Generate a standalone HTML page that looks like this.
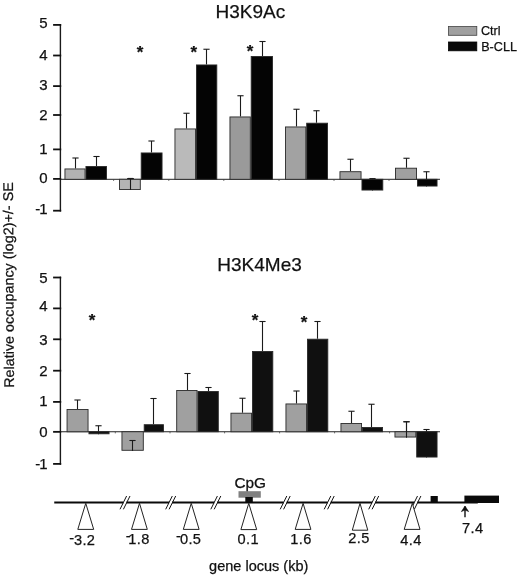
<!DOCTYPE html>
<html><head><meta charset="utf-8"><title>Figure</title>
<style>
html,body{margin:0;padding:0;background:#fff;}
svg{display:block;font-family:'Liberation Sans', Arial, sans-serif;fill:#111;}
text{stroke:#111;stroke-width:0.25px;}
</style></head><body>
<svg width="520" height="576" viewBox="0 0 520 576">
<rect x="0" y="0" width="520" height="576" fill="#ffffff"/>
<line x1="60.40" y1="24.10" x2="60.40" y2="211.50" stroke="#1a1a1a" stroke-width="1.4" stroke-linecap="butt"/>
<line x1="53.10" y1="24.90" x2="61.20" y2="24.90" stroke="#111" stroke-width="1.8" stroke-linecap="butt"/>
<text x="47.70" y="27.70" font-size="15" text-anchor="end" >5</text>
<line x1="53.10" y1="55.50" x2="61.20" y2="55.50" stroke="#111" stroke-width="1.8" stroke-linecap="butt"/>
<text x="47.70" y="59.80" font-size="15" text-anchor="end" >4</text>
<line x1="53.10" y1="86.10" x2="61.20" y2="86.10" stroke="#111" stroke-width="1.8" stroke-linecap="butt"/>
<text x="47.70" y="90.30" font-size="15" text-anchor="end" >3</text>
<line x1="53.10" y1="115.00" x2="61.20" y2="115.00" stroke="#111" stroke-width="1.8" stroke-linecap="butt"/>
<text x="47.70" y="119.80" font-size="15" text-anchor="end" >2</text>
<line x1="53.10" y1="149.40" x2="61.20" y2="149.40" stroke="#111" stroke-width="1.8" stroke-linecap="butt"/>
<text x="47.70" y="154.20" font-size="15" text-anchor="end" >1</text>
<line x1="53.10" y1="178.90" x2="61.20" y2="178.90" stroke="#111" stroke-width="1.8" stroke-linecap="butt"/>
<text x="47.70" y="183.40" font-size="15" text-anchor="end" >0</text>
<line x1="53.10" y1="210.70" x2="61.20" y2="210.70" stroke="#111" stroke-width="1.8" stroke-linecap="butt"/>
<text x="47.70" y="214.10" font-size="15" text-anchor="end" >-<tspan dx="-1">1</tspan></text>
<line x1="61.00" y1="179.30" x2="440.00" y2="179.30" stroke="#222" stroke-width="1" stroke-linecap="butt"/>
<line x1="113.60" y1="179.30" x2="113.60" y2="180.90" stroke="#444" stroke-width="0.8" stroke-linecap="butt"/>
<line x1="168.80" y1="179.30" x2="168.80" y2="180.90" stroke="#444" stroke-width="0.8" stroke-linecap="butt"/>
<line x1="223.80" y1="179.30" x2="223.80" y2="180.90" stroke="#444" stroke-width="0.8" stroke-linecap="butt"/>
<line x1="279.00" y1="179.30" x2="279.00" y2="180.90" stroke="#444" stroke-width="0.8" stroke-linecap="butt"/>
<line x1="334.00" y1="179.30" x2="334.00" y2="180.90" stroke="#444" stroke-width="0.8" stroke-linecap="butt"/>
<line x1="389.00" y1="179.30" x2="389.00" y2="180.90" stroke="#444" stroke-width="0.8" stroke-linecap="butt"/>
<line x1="75.50" y1="158.00" x2="75.50" y2="168.50" stroke="#1a1a1a" stroke-width="1.1" stroke-linecap="butt"/>
<line x1="72.40" y1="158.00" x2="78.60" y2="158.00" stroke="#1a1a1a" stroke-width="1.1" stroke-linecap="butt"/>
<rect x="64.95" y="168.95" width="20.10" height="10.35" fill="#b2b2b2" stroke="#2a2a2a" stroke-width="0.9"/>
<line x1="96.50" y1="156.50" x2="96.50" y2="166.00" stroke="#1a1a1a" stroke-width="1.1" stroke-linecap="butt"/>
<line x1="93.40" y1="156.50" x2="99.60" y2="156.50" stroke="#1a1a1a" stroke-width="1.1" stroke-linecap="butt"/>
<rect x="85.95" y="166.45" width="20.60" height="12.85" fill="#040404" stroke="#2a2a2a" stroke-width="0.9"/>
<line x1="130.50" y1="178.50" x2="130.50" y2="190.00" stroke="#1a1a1a" stroke-width="1.1" stroke-linecap="butt"/>
<line x1="127.40" y1="178.50" x2="133.60" y2="178.50" stroke="#1a1a1a" stroke-width="1.1" stroke-linecap="butt"/>
<rect x="119.55" y="179.30" width="20.75" height="10.25" fill="#b4b4b4" stroke="#2a2a2a" stroke-width="0.9"/>
<line x1="130.50" y1="178.50" x2="130.50" y2="190.00" stroke="#1a1a1a" stroke-width="1.1" stroke-linecap="butt"/>
<line x1="127.40" y1="178.50" x2="133.60" y2="178.50" stroke="#1a1a1a" stroke-width="1.1" stroke-linecap="butt"/>
<line x1="151.50" y1="141.00" x2="151.50" y2="152.50" stroke="#1a1a1a" stroke-width="1.1" stroke-linecap="butt"/>
<line x1="148.40" y1="141.00" x2="154.60" y2="141.00" stroke="#1a1a1a" stroke-width="1.1" stroke-linecap="butt"/>
<rect x="141.20" y="152.95" width="20.85" height="26.35" fill="#040404" stroke="#2a2a2a" stroke-width="0.9"/>
<line x1="186.50" y1="113.25" x2="186.50" y2="128.50" stroke="#1a1a1a" stroke-width="1.1" stroke-linecap="butt"/>
<line x1="183.40" y1="113.25" x2="189.60" y2="113.25" stroke="#1a1a1a" stroke-width="1.1" stroke-linecap="butt"/>
<rect x="174.95" y="128.95" width="20.60" height="50.35" fill="#bababa" stroke="#2a2a2a" stroke-width="0.9"/>
<line x1="206.50" y1="49.25" x2="206.50" y2="64.50" stroke="#1a1a1a" stroke-width="1.1" stroke-linecap="butt"/>
<line x1="203.40" y1="49.25" x2="209.60" y2="49.25" stroke="#1a1a1a" stroke-width="1.1" stroke-linecap="butt"/>
<rect x="196.45" y="64.95" width="20.35" height="114.35" fill="#040404" stroke="#2a2a2a" stroke-width="0.9"/>
<line x1="240.50" y1="95.75" x2="240.50" y2="116.50" stroke="#1a1a1a" stroke-width="1.1" stroke-linecap="butt"/>
<line x1="237.40" y1="95.75" x2="243.60" y2="95.75" stroke="#1a1a1a" stroke-width="1.1" stroke-linecap="butt"/>
<rect x="229.95" y="116.95" width="20.35" height="62.35" fill="#9a9a9a" stroke="#2a2a2a" stroke-width="0.9"/>
<line x1="262.50" y1="41.50" x2="262.50" y2="56.00" stroke="#1a1a1a" stroke-width="1.1" stroke-linecap="butt"/>
<line x1="259.40" y1="41.50" x2="265.60" y2="41.50" stroke="#1a1a1a" stroke-width="1.1" stroke-linecap="butt"/>
<rect x="251.20" y="56.45" width="21.35" height="122.85" fill="#040404" stroke="#2a2a2a" stroke-width="0.9"/>
<line x1="296.50" y1="109.25" x2="296.50" y2="126.50" stroke="#1a1a1a" stroke-width="1.1" stroke-linecap="butt"/>
<line x1="293.40" y1="109.25" x2="299.60" y2="109.25" stroke="#1a1a1a" stroke-width="1.1" stroke-linecap="butt"/>
<rect x="285.45" y="126.95" width="20.35" height="52.35" fill="#a2a2a2" stroke="#2a2a2a" stroke-width="0.9"/>
<line x1="316.50" y1="110.75" x2="316.50" y2="122.75" stroke="#1a1a1a" stroke-width="1.1" stroke-linecap="butt"/>
<line x1="313.40" y1="110.75" x2="319.60" y2="110.75" stroke="#1a1a1a" stroke-width="1.1" stroke-linecap="butt"/>
<rect x="306.70" y="123.20" width="20.85" height="56.10" fill="#040404" stroke="#2a2a2a" stroke-width="0.9"/>
<line x1="350.50" y1="159.25" x2="350.50" y2="171.25" stroke="#1a1a1a" stroke-width="1.1" stroke-linecap="butt"/>
<line x1="347.40" y1="159.25" x2="353.60" y2="159.25" stroke="#1a1a1a" stroke-width="1.1" stroke-linecap="butt"/>
<rect x="339.95" y="171.70" width="21.10" height="7.60" fill="#a2a2a2" stroke="#2a2a2a" stroke-width="0.9"/>
<line x1="372.50" y1="178.60" x2="372.50" y2="190.50" stroke="#1a1a1a" stroke-width="1.1" stroke-linecap="butt"/>
<line x1="369.40" y1="178.60" x2="375.60" y2="178.60" stroke="#1a1a1a" stroke-width="1.1" stroke-linecap="butt"/>
<rect x="361.95" y="179.30" width="20.85" height="10.75" fill="#040404" stroke="#2a2a2a" stroke-width="0.9"/>
<line x1="406.50" y1="158.25" x2="406.50" y2="167.75" stroke="#1a1a1a" stroke-width="1.1" stroke-linecap="butt"/>
<line x1="403.40" y1="158.25" x2="409.60" y2="158.25" stroke="#1a1a1a" stroke-width="1.1" stroke-linecap="butt"/>
<rect x="395.45" y="168.20" width="21.10" height="11.10" fill="#a0a0a0" stroke="#2a2a2a" stroke-width="0.9"/>
<line x1="426.50" y1="171.75" x2="426.50" y2="186.50" stroke="#1a1a1a" stroke-width="1.1" stroke-linecap="butt"/>
<line x1="423.40" y1="171.75" x2="429.60" y2="171.75" stroke="#1a1a1a" stroke-width="1.1" stroke-linecap="butt"/>
<rect x="417.45" y="179.30" width="19.60" height="6.75" fill="#040404" stroke="#2a2a2a" stroke-width="0.9"/>
<text x="140.00" y="57.50" font-size="17" text-anchor="middle" font-weight="bold">*</text>
<text x="193.75" y="58.00" font-size="17" text-anchor="middle" font-weight="bold">*</text>
<text x="250.00" y="56.75" font-size="17" text-anchor="middle" font-weight="bold">*</text>
<text x="215.50" y="18.30" font-size="19" text-anchor="start" >H3K9Ac</text>
<line x1="60.40" y1="276.70" x2="60.40" y2="464.70" stroke="#1a1a1a" stroke-width="1.4" stroke-linecap="butt"/>
<line x1="53.10" y1="277.50" x2="61.20" y2="277.50" stroke="#111" stroke-width="1.8" stroke-linecap="butt"/>
<text x="47.70" y="282.60" font-size="15" text-anchor="end" >5</text>
<line x1="53.10" y1="308.40" x2="61.20" y2="308.40" stroke="#111" stroke-width="1.8" stroke-linecap="butt"/>
<text x="47.70" y="311.25" font-size="15" text-anchor="end" >4</text>
<line x1="53.10" y1="339.30" x2="61.20" y2="339.30" stroke="#111" stroke-width="1.8" stroke-linecap="butt"/>
<text x="47.70" y="344.70" font-size="15" text-anchor="end" >3</text>
<line x1="53.10" y1="370.70" x2="61.20" y2="370.70" stroke="#111" stroke-width="1.8" stroke-linecap="butt"/>
<text x="47.70" y="375.70" font-size="15" text-anchor="end" >2</text>
<line x1="53.10" y1="401.90" x2="61.20" y2="401.90" stroke="#111" stroke-width="1.8" stroke-linecap="butt"/>
<text x="47.70" y="406.40" font-size="15" text-anchor="end" >1</text>
<line x1="53.10" y1="431.85" x2="61.20" y2="431.85" stroke="#111" stroke-width="1.8" stroke-linecap="butt"/>
<text x="47.70" y="437.30" font-size="15" text-anchor="end" >0</text>
<line x1="53.10" y1="463.90" x2="61.20" y2="463.90" stroke="#111" stroke-width="1.8" stroke-linecap="butt"/>
<text x="47.70" y="469.10" font-size="15" text-anchor="end" >-<tspan dx="-1">1</tspan></text>
<line x1="61.00" y1="431.75" x2="440.00" y2="431.75" stroke="#222" stroke-width="1" stroke-linecap="butt"/>
<line x1="115.30" y1="431.75" x2="115.30" y2="433.35" stroke="#444" stroke-width="0.8" stroke-linecap="butt"/>
<line x1="170.00" y1="431.75" x2="170.00" y2="433.35" stroke="#444" stroke-width="0.8" stroke-linecap="butt"/>
<line x1="224.60" y1="431.75" x2="224.60" y2="433.35" stroke="#444" stroke-width="0.8" stroke-linecap="butt"/>
<line x1="279.60" y1="431.75" x2="279.60" y2="433.35" stroke="#444" stroke-width="0.8" stroke-linecap="butt"/>
<line x1="334.60" y1="431.75" x2="334.60" y2="433.35" stroke="#444" stroke-width="0.8" stroke-linecap="butt"/>
<line x1="389.60" y1="431.75" x2="389.60" y2="433.35" stroke="#444" stroke-width="0.8" stroke-linecap="butt"/>
<line x1="77.50" y1="400.00" x2="77.50" y2="409.00" stroke="#1a1a1a" stroke-width="1.1" stroke-linecap="butt"/>
<line x1="74.40" y1="400.00" x2="80.60" y2="400.00" stroke="#1a1a1a" stroke-width="1.1" stroke-linecap="butt"/>
<rect x="67.05" y="409.45" width="21.00" height="22.30" fill="#a0a0a0" stroke="#2a2a2a" stroke-width="0.9"/>
<line x1="98.50" y1="425.75" x2="98.50" y2="434.25" stroke="#1a1a1a" stroke-width="1.1" stroke-linecap="butt"/>
<line x1="95.40" y1="425.75" x2="101.60" y2="425.75" stroke="#1a1a1a" stroke-width="1.1" stroke-linecap="butt"/>
<rect x="88.95" y="431.75" width="20.10" height="2.05" fill="#101010" stroke="#2a2a2a" stroke-width="0.9"/>
<line x1="132.50" y1="440.50" x2="132.50" y2="450.75" stroke="#1a1a1a" stroke-width="1.1" stroke-linecap="butt"/>
<line x1="129.40" y1="440.50" x2="135.60" y2="440.50" stroke="#1a1a1a" stroke-width="1.1" stroke-linecap="butt"/>
<rect x="121.95" y="431.75" width="21.35" height="18.55" fill="#a0a0a0" stroke="#2a2a2a" stroke-width="0.9"/>
<line x1="132.50" y1="440.50" x2="132.50" y2="450.75" stroke="#1a1a1a" stroke-width="1.1" stroke-linecap="butt"/>
<line x1="129.40" y1="440.50" x2="135.60" y2="440.50" stroke="#1a1a1a" stroke-width="1.1" stroke-linecap="butt"/>
<line x1="153.50" y1="398.50" x2="153.50" y2="424.25" stroke="#1a1a1a" stroke-width="1.1" stroke-linecap="butt"/>
<line x1="150.40" y1="398.50" x2="156.60" y2="398.50" stroke="#1a1a1a" stroke-width="1.1" stroke-linecap="butt"/>
<rect x="144.20" y="424.70" width="19.25" height="7.05" fill="#101010" stroke="#2a2a2a" stroke-width="0.9"/>
<line x1="187.50" y1="373.50" x2="187.50" y2="390.00" stroke="#1a1a1a" stroke-width="1.1" stroke-linecap="butt"/>
<line x1="184.40" y1="373.50" x2="190.60" y2="373.50" stroke="#1a1a1a" stroke-width="1.1" stroke-linecap="butt"/>
<rect x="176.70" y="390.45" width="20.35" height="41.30" fill="#a0a0a0" stroke="#2a2a2a" stroke-width="0.9"/>
<line x1="208.50" y1="387.50" x2="208.50" y2="391.00" stroke="#1a1a1a" stroke-width="1.1" stroke-linecap="butt"/>
<line x1="205.40" y1="387.50" x2="211.60" y2="387.50" stroke="#1a1a1a" stroke-width="1.1" stroke-linecap="butt"/>
<rect x="197.95" y="391.45" width="20.35" height="40.30" fill="#101010" stroke="#2a2a2a" stroke-width="0.9"/>
<line x1="242.50" y1="398.25" x2="242.50" y2="412.75" stroke="#1a1a1a" stroke-width="1.1" stroke-linecap="butt"/>
<line x1="239.40" y1="398.25" x2="245.60" y2="398.25" stroke="#1a1a1a" stroke-width="1.1" stroke-linecap="butt"/>
<rect x="230.95" y="413.20" width="20.60" height="18.55" fill="#a0a0a0" stroke="#2a2a2a" stroke-width="0.9"/>
<line x1="262.50" y1="321.50" x2="262.50" y2="351.00" stroke="#1a1a1a" stroke-width="1.1" stroke-linecap="butt"/>
<line x1="259.40" y1="321.50" x2="265.60" y2="321.50" stroke="#1a1a1a" stroke-width="1.1" stroke-linecap="butt"/>
<rect x="252.45" y="351.45" width="20.35" height="80.30" fill="#101010" stroke="#2a2a2a" stroke-width="0.9"/>
<line x1="296.50" y1="391.00" x2="296.50" y2="403.50" stroke="#1a1a1a" stroke-width="1.1" stroke-linecap="butt"/>
<line x1="293.40" y1="391.00" x2="299.60" y2="391.00" stroke="#1a1a1a" stroke-width="1.1" stroke-linecap="butt"/>
<rect x="285.95" y="403.95" width="20.60" height="27.80" fill="#a0a0a0" stroke="#2a2a2a" stroke-width="0.9"/>
<line x1="317.50" y1="321.50" x2="317.50" y2="338.75" stroke="#1a1a1a" stroke-width="1.1" stroke-linecap="butt"/>
<line x1="314.40" y1="321.50" x2="320.60" y2="321.50" stroke="#1a1a1a" stroke-width="1.1" stroke-linecap="butt"/>
<rect x="307.45" y="339.20" width="20.35" height="92.55" fill="#101010" stroke="#2a2a2a" stroke-width="0.9"/>
<line x1="351.50" y1="411.25" x2="351.50" y2="423.00" stroke="#1a1a1a" stroke-width="1.1" stroke-linecap="butt"/>
<line x1="348.40" y1="411.25" x2="354.60" y2="411.25" stroke="#1a1a1a" stroke-width="1.1" stroke-linecap="butt"/>
<rect x="340.95" y="423.45" width="20.60" height="8.30" fill="#a0a0a0" stroke="#2a2a2a" stroke-width="0.9"/>
<line x1="371.50" y1="404.25" x2="371.50" y2="427.00" stroke="#1a1a1a" stroke-width="1.1" stroke-linecap="butt"/>
<line x1="368.40" y1="404.25" x2="374.60" y2="404.25" stroke="#1a1a1a" stroke-width="1.1" stroke-linecap="butt"/>
<rect x="362.45" y="427.45" width="20.10" height="4.30" fill="#101010" stroke="#2a2a2a" stroke-width="0.9"/>
<line x1="406.50" y1="421.75" x2="406.50" y2="437.50" stroke="#1a1a1a" stroke-width="1.1" stroke-linecap="butt"/>
<line x1="403.40" y1="421.75" x2="409.60" y2="421.75" stroke="#1a1a1a" stroke-width="1.1" stroke-linecap="butt"/>
<rect x="394.95" y="431.75" width="20.85" height="5.30" fill="#a0a0a0" stroke="#2a2a2a" stroke-width="0.9"/>
<line x1="406.50" y1="421.75" x2="406.50" y2="437.50" stroke="#1a1a1a" stroke-width="1.1" stroke-linecap="butt"/>
<line x1="403.40" y1="421.75" x2="409.60" y2="421.75" stroke="#1a1a1a" stroke-width="1.1" stroke-linecap="butt"/>
<line x1="426.50" y1="429.50" x2="426.50" y2="457.50" stroke="#1a1a1a" stroke-width="1.1" stroke-linecap="butt"/>
<line x1="423.40" y1="429.50" x2="429.60" y2="429.50" stroke="#1a1a1a" stroke-width="1.1" stroke-linecap="butt"/>
<rect x="416.70" y="431.75" width="20.35" height="25.30" fill="#101010" stroke="#2a2a2a" stroke-width="0.9"/>
<text x="92.00" y="325.50" font-size="17" text-anchor="middle" font-weight="bold">*</text>
<text x="255.00" y="326.25" font-size="17" text-anchor="middle" font-weight="bold">*</text>
<text x="304.00" y="327.50" font-size="17" text-anchor="middle" font-weight="bold">*</text>
<text x="217.30" y="271.00" font-size="19" text-anchor="start" >H3K4Me3</text>
<rect x="448.50" y="26.50" width="28.30" height="8.80" fill="#a0a0a0" stroke="#444" stroke-width="0.8"/>
<rect x="448.50" y="42.00" width="28.30" height="8.80" fill="#0a0a0a" stroke="#000" stroke-width="0.8"/>
<text x="481.00" y="35.20" font-size="12.6" text-anchor="start" >Ctrl</text>
<text x="481.20" y="51.20" font-size="12.6" text-anchor="start" >B-CLL</text>
<text transform="translate(14.0,387.8) rotate(-90.3)" font-size="14.0" textLength="205.6" lengthAdjust="spacingAndGlyphs">Relative occupancy (log2)+/- SE</text>
<line x1="54.25" y1="502.50" x2="123.40" y2="502.50" stroke="#0a0a0a" stroke-width="1.8" stroke-linecap="butt"/>
<line x1="126.40" y1="502.50" x2="169.10" y2="502.50" stroke="#0a0a0a" stroke-width="1.8" stroke-linecap="butt"/>
<line x1="172.10" y1="502.50" x2="214.20" y2="502.50" stroke="#0a0a0a" stroke-width="1.8" stroke-linecap="butt"/>
<line x1="217.20" y1="502.50" x2="283.60" y2="502.50" stroke="#0a0a0a" stroke-width="1.8" stroke-linecap="butt"/>
<line x1="286.60" y1="502.50" x2="327.60" y2="502.50" stroke="#0a0a0a" stroke-width="1.8" stroke-linecap="butt"/>
<line x1="330.60" y1="502.50" x2="372.10" y2="502.50" stroke="#0a0a0a" stroke-width="1.8" stroke-linecap="butt"/>
<line x1="375.10" y1="502.50" x2="414.30" y2="502.50" stroke="#0a0a0a" stroke-width="1.8" stroke-linecap="butt"/>
<line x1="417.30" y1="502.50" x2="477.80" y2="502.50" stroke="#0a0a0a" stroke-width="1.8" stroke-linecap="butt"/>
<line x1="120.00" y1="509.30" x2="126.60" y2="496.00" stroke="#111" stroke-width="1" stroke-linecap="butt"/>
<line x1="123.40" y1="509.30" x2="130.00" y2="496.00" stroke="#111" stroke-width="1" stroke-linecap="butt"/>
<line x1="165.70" y1="509.30" x2="172.30" y2="496.00" stroke="#111" stroke-width="1" stroke-linecap="butt"/>
<line x1="169.10" y1="509.30" x2="175.70" y2="496.00" stroke="#111" stroke-width="1" stroke-linecap="butt"/>
<line x1="210.80" y1="509.30" x2="217.40" y2="496.00" stroke="#111" stroke-width="1" stroke-linecap="butt"/>
<line x1="214.20" y1="509.30" x2="220.80" y2="496.00" stroke="#111" stroke-width="1" stroke-linecap="butt"/>
<line x1="280.20" y1="509.30" x2="286.80" y2="496.00" stroke="#111" stroke-width="1" stroke-linecap="butt"/>
<line x1="283.60" y1="509.30" x2="290.20" y2="496.00" stroke="#111" stroke-width="1" stroke-linecap="butt"/>
<line x1="324.20" y1="509.30" x2="330.80" y2="496.00" stroke="#111" stroke-width="1" stroke-linecap="butt"/>
<line x1="327.60" y1="509.30" x2="334.20" y2="496.00" stroke="#111" stroke-width="1" stroke-linecap="butt"/>
<line x1="368.70" y1="509.30" x2="375.30" y2="496.00" stroke="#111" stroke-width="1" stroke-linecap="butt"/>
<line x1="372.10" y1="509.30" x2="378.70" y2="496.00" stroke="#111" stroke-width="1" stroke-linecap="butt"/>
<line x1="410.90" y1="509.30" x2="417.50" y2="496.00" stroke="#111" stroke-width="1" stroke-linecap="butt"/>
<line x1="414.30" y1="509.30" x2="420.90" y2="496.00" stroke="#111" stroke-width="1" stroke-linecap="butt"/>
<polygon points="85.75,503.3 77.8,529.4 93.7,529.4" fill="#fff" stroke="#222" stroke-width="1"/>
<polygon points="139.5,503.3 131.5,529.4 147.3,529.4" fill="#fff" stroke="#222" stroke-width="1"/>
<polygon points="191.25,503.3 183.3,529.4 199.1,529.4" fill="#fff" stroke="#222" stroke-width="1"/>
<polygon points="248.75,503.3 240.9,529.6 256.7,529.6" fill="#fff" stroke="#222" stroke-width="1"/>
<polygon points="303.1,503.3 295.2,529.4 310.9,529.4" fill="#fff" stroke="#222" stroke-width="1"/>
<polygon points="360,503.3 352.3,530.2 367.8,530.2" fill="#fff" stroke="#222" stroke-width="1"/>
<polygon points="412.3,503.3 404.2,529.4 420,529.4" fill="#fff" stroke="#222" stroke-width="1"/>
<text x="95.40" y="544.50" font-size="14.6" letter-spacing="0.4" text-anchor="end">3.2</text>
<text x="69.20" y="543.10" font-size="14.6">-</text>
<text x="149.80" y="543.75" font-size="14.6" letter-spacing="0.4" text-anchor="end">1.8</text>
<text x="125.70" y="541.45" font-size="14.6">-</text>
<text x="201.40" y="543.75" font-size="14.6" letter-spacing="0.4" text-anchor="end">0.5</text>
<text x="176.10" y="541.45" font-size="14.6">-</text>
<text x="259.00" y="544.20" font-size="14.6" letter-spacing="0.4" text-anchor="end">0.1</text>
<text x="311.80" y="543.90" font-size="14.6" letter-spacing="0.4" text-anchor="end">1.6</text>
<text x="369.80" y="543.30" font-size="14.6" letter-spacing="0.4" text-anchor="end">2.5</text>
<text x="421.80" y="544.70" font-size="14.6" letter-spacing="0.4" text-anchor="end">4.4</text>
<text x="483.60" y="532.90" font-size="14.6" letter-spacing="0.4" text-anchor="end">7.4</text>
<rect x="238.50" y="491.20" width="22.30" height="6.50" fill="#808080"/>
<rect x="245.30" y="497.00" width="7.50" height="5.60" fill="#0a0a0a"/>
<text transform="translate(234.4,487.9) scale(1.09,1)" font-size="14.1">CpG</text>
<rect x="430.60" y="496.00" width="7.20" height="6.60" fill="#0a0a0a"/>
<rect x="464.40" y="495.60" width="34.60" height="7.40" fill="#0a0a0a"/>
<line x1="465.00" y1="506.60" x2="465.00" y2="517.20" stroke="#111" stroke-width="1.4" stroke-linecap="butt"/>
<polygon points="465.0,506.0 461.4,511.6 465.0,510.0 468.6,511.6" fill="#111" stroke="#111" stroke-width="0.6" stroke-linejoin="miter"/>
<text x="209.10" y="571.00" font-size="14.1" text-anchor="start" textLength="99.2" lengthAdjust="spacingAndGlyphs">gene locus (kb)</text>
</svg>
</body></html>
